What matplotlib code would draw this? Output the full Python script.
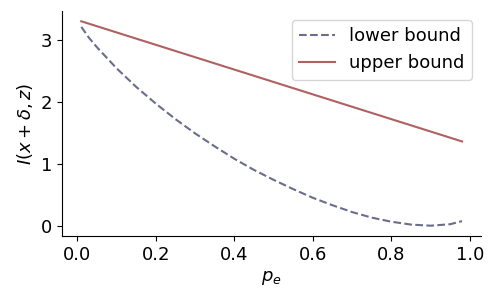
import numpy as np
import matplotlib.pyplot as plt

# error probability and bounds
pe = [0.01, 0.03, 0.05, 0.10, 0.15, 0.20, 0.25, 0.30, 0.35, 0.40, 0.45,
      0.50, 0.55, 0.60, 0.65, 0.70, 0.75, 0.80, 0.85, 0.90, 0.95, 0.98]
lower = [3.21, 3.03, 2.88, 2.54, 2.24, 1.97, 1.72, 1.49, 1.28, 1.08, 0.90,
         0.74, 0.59, 0.45, 0.33, 0.22, 0.13, 0.064, 0.018, 0.0, 0.024, 0.074]
pe_upper = [0.01, 0.98]
upper = [3.30, 1.36]

fig, ax = plt.subplots(figsize=(4.98, 2.99), dpi=100)
ax.plot(pe, lower, linestyle='--', color='#6b6d8c', linewidth=1.5, label='lower bound')
ax.plot(pe_upper, upper, color='#b06060', linewidth=1.5, label='upper bound')

ax.set_xlabel('$p_e$', fontsize=13)
ax.set_ylabel('$I(x+\\delta,z)$', fontsize=13)
ax.set_xticks([0.0, 0.2, 0.4, 0.6, 0.8, 1.0])
ax.set_yticks([0, 1, 2, 3])
ax.tick_params(labelsize=13)
ax.spines['top'].set_visible(False)
ax.spines['right'].set_visible(False)
ax.legend(fontsize=13, loc='upper right')

fig.subplots_adjust(left=0.125, right=0.966, top=0.963, bottom=0.211)
plt.savefig('out.png', dpi=100)
